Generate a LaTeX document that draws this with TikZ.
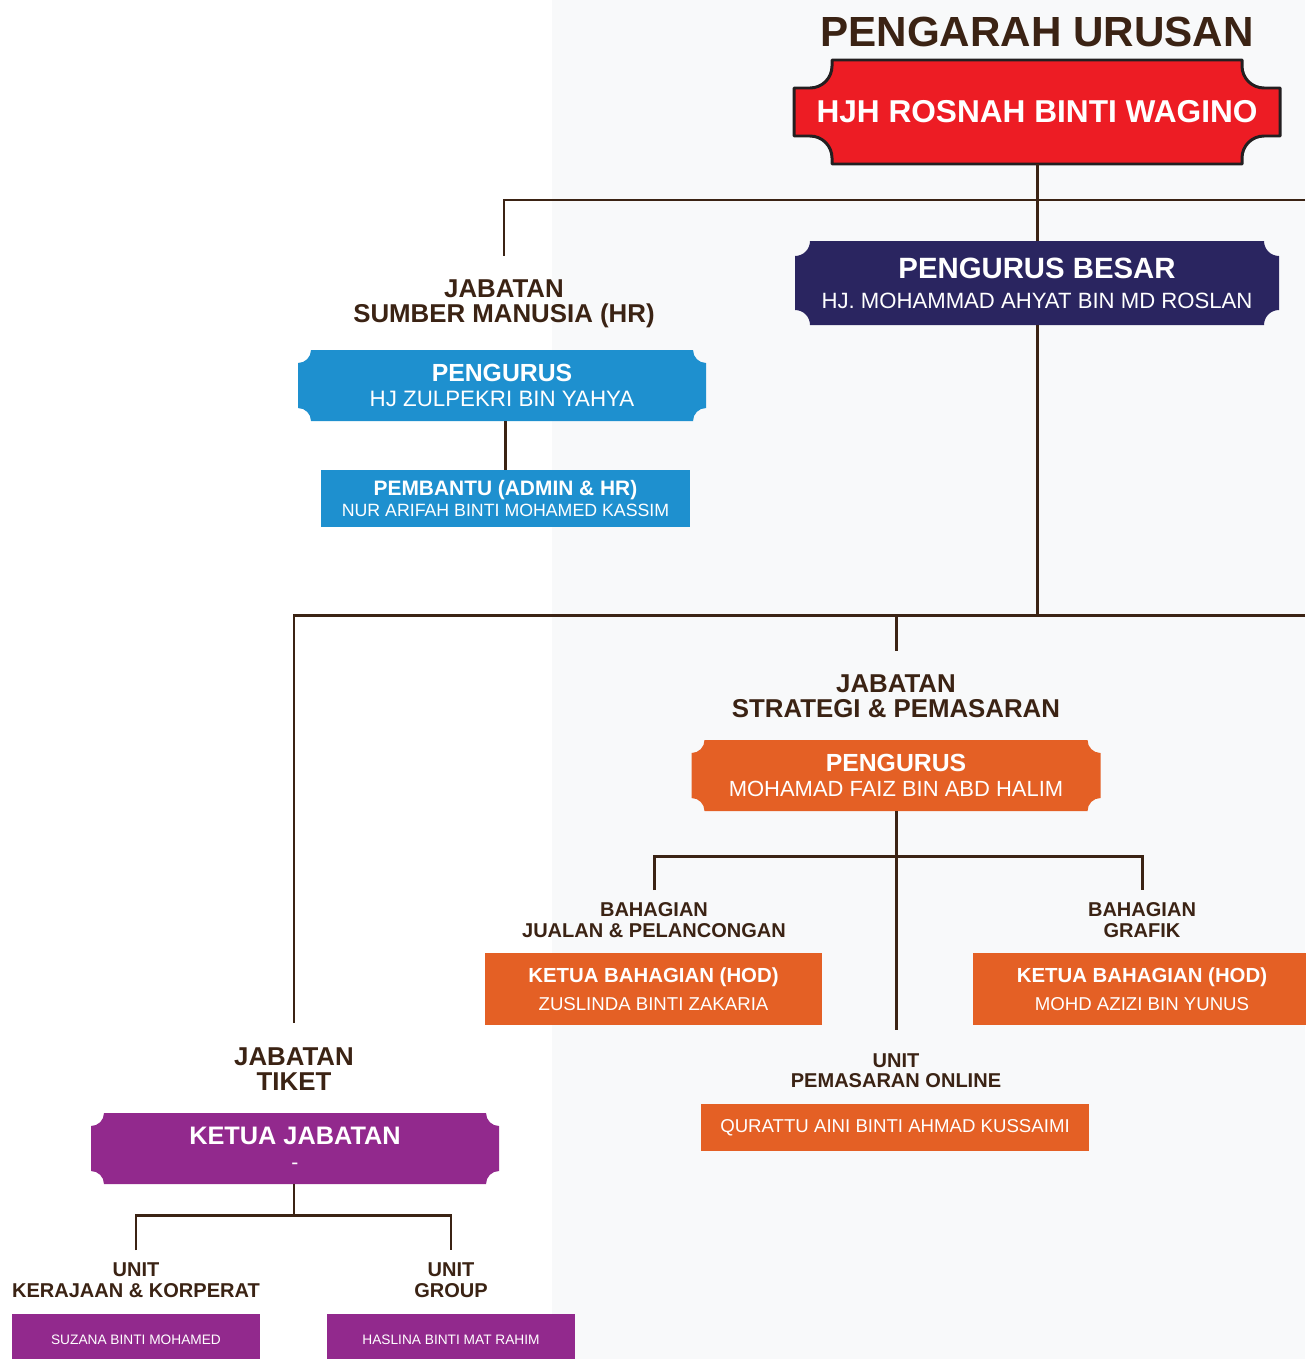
\documentclass[tikz,border=0pt]{standalone}
\usepackage{fontspec}
\setmainfont{Liberation Sans}
\usetikzlibrary{positioning}

\definecolor{lineBrown}{HTML}{3B2314}
\definecolor{pageGray}{HTML}{F8F9FA}
\definecolor{mdRed}{HTML}{ED1C24}
\definecolor{mdEdge}{HTML}{231F20}
\definecolor{mgrNavy}{HTML}{2A2560}
\definecolor{hrBlue}{HTML}{1E90CF}
\definecolor{stratOrange}{HTML}{E46025}
\definecolor{tiketPurple}{HTML}{92298D}

\pgfdeclarelayer{bg}
\pgfsetlayers{bg,main}

\newcommand{\pxu}{0.02cm}
% box with concave corners, drawn behind a named node
\newcommand{\notchfill}[3]{\fill[#2] ([shift={(#3,0)}]#1.north west) -- ([shift={(-#3,0)}]#1.north east) arc[start angle=180,end angle=270,radius=#3] -- ([shift={(0,#3)}]#1.south east) arc[start angle=90,end angle=180,radius=#3] -- ([shift={(#3,0)}]#1.south west) arc[start angle=0,end angle=90,radius=#3] -- ([shift={(0,-#3)}]#1.north west) arc[start angle=270,end angle=360,radius=#3] -- cycle;}

\begin{document}
\begin{tikzpicture}[x=0.02cm,y=0.02cm,
  box/.style 2 args={inner sep=0pt,outer sep=0pt,text=white,align=center,minimum width=#1*\pxu,minimum height=#2*\pxu},
  dept/.style={anchor=north,inner sep=0pt,outer ysep=13.4pt,text=lineBrown,align=center,font=\fontsize{14.7}{14.2}\selectfont\bfseries},
  sub/.style={anchor=north,inner sep=0pt,outer ysep=7.3pt,text=lineBrown,align=center,font=\fontsize{11.4}{11.6}\selectfont\bfseries},
  link/.style={draw=lineBrown,line width=1.7pt}]
\useasboundingbox (0,0) rectangle (1305,-1359);

% top
\node[inner sep=0pt,text=lineBrown,font=\fontsize{24}{24}\selectfont\bfseries] (title) at (1037,-32) {PENGARAH URUSAN};
\node[box={486}{104},font=\fontsize{18}{18}\selectfont\bfseries] (md) at (1037,-112) {HJH ROSNAH BINTI WAGINO};
\node[box={484}{84},font=\fontsize{12.6}{17}\selectfont] (mgr) at (1037,-283) {{\fontsize{16.7}{17}\selectfont\bfseries PENGURUS BESAR}\\HJ. MOHAMMAD AHYAT BIN MD ROSLAN};

% HR
\node[dept] (hrlbl) at (504,-256) {JABATAN\\SUMBER MANUSIA (HR)};
\node[box={408}{71},font=\fontsize{12.7}{13.9}\selectfont] (hrmgr) at (502,-385.5) {{\fontsize{14.1}{13.9}\selectfont\bfseries PENGURUS}\\HJ ZULPEKRI BIN YAHYA};
\node[box={369}{57},fill=hrBlue,font=\fontsize{10.1}{12.5}\selectfont] (hrasst) at (505.5,-498.5) {{\fontsize{11.9}{12.5}\selectfont\bfseries PEMBANTU (ADMIN \& HR)}\\NUR ARIFAH BINTI MOHAMED KASSIM};

% strategi
\node[dept] (stratlbl) at (896,-651) {JABATAN\\STRATEGI \& PEMASARAN};
\node[box={409}{71},font=\fontsize{12.5}{14.5}\selectfont] (stratmgr) at (896,-775.5) {{\fontsize{14.1}{14.5}\selectfont\bfseries PENGURUS}\\MOHAMAD FAIZ BIN ABD HALIM};
\node[sub] (jualanlbl) at (654,-890) {BAHAGIAN\\JUALAN \& PELANCONGAN};
\node[box={337}{72},fill=stratOrange,font=\fontsize{10.6}{16.2}\selectfont] (jualanhod) at (653.5,-989) {{\fontsize{11.6}{16.2}\selectfont\bfseries KETUA BAHAGIAN (HOD)}\\ZUSLINDA BINTI ZAKARIA};
\node[sub] (grafiklbl) at (1142,-890) {BAHAGIAN\\GRAFIK};
\node[box={338}{72},fill=stratOrange,font=\fontsize{10.6}{16.2}\selectfont] (grafikhod) at (1142,-989) {{\fontsize{11.6}{16.2}\selectfont\bfseries KETUA BAHAGIAN (HOD)}\\MOHD AZIZI BIN YUNUS};
\node[sub,outer ysep=13.5pt] (onlinelbl) at (896,-1030) {UNIT\\PEMASARAN ONLINE};
\node[box={388}{47},fill=stratOrange,font=\fontsize{10.6}{12}\selectfont] (onlinebox) at (895,-1127.5) {QURATTU AINI BINTI AHMAD KUSSAIMI};

% tiket
\node[dept,outer ysep=14pt] (tiketlbl) at (294,-1023) {JABATAN\\TIKET};
\node[box={408}{71},font=\fontsize{12}{14.2}\selectfont] (tiketmgr) at (295,-1148.5) {{\fontsize{14.4}{14.2}\selectfont\bfseries KETUA JABATAN}\\-};
\node[sub] (kerlbl) at (136,-1250) {UNIT\\KERAJAAN \& KORPERAT};
\node[box={248}{52},fill=tiketPurple,font=\fontsize{7.8}{9}\selectfont] (kerbox) at (136,-1340) {SUZANA BINTI MOHAMED};
\node[sub] (grouplbl) at (451,-1250) {UNIT\\GROUP};
\node[box={248}{52},fill=tiketPurple,font=\fontsize{7.8}{9}\selectfont] (groupbox) at (451,-1340) {HASLINA BINTI MAT RAHIM};

% connectors
\coordinate (eastA) at (1305,-200);
\coordinate (eastB) at (1305,-615);
\coordinate (barS) at (896,-856);
\coordinate (barT) at (294,-1215);
\draw[link] (md.south) -- (mgr.north);
\draw[link] (eastA) -| (hrlbl.north);
\draw[link] (hrmgr.south -| hrasst.north) -- (hrasst.north);
\draw[link] (mgr.south) -- (mgr.south |- eastB);
\draw[link] (eastB) -| (tiketlbl.north);
\draw[link] (stratlbl.north |- eastB) -- (stratlbl.north);
\draw[link] (stratmgr.south) -- (onlinelbl.north);
\draw[link] (jualanlbl.north) |- (barS) -| (grafiklbl.north);
\draw[link] (tiketmgr.south -| barT) -- (barT);
\draw[link] (kerlbl.north) |- (barT) -| (grouplbl.north);

% shapes behind the nodes
\begin{pgfonlayer}{bg}
\fill[white] (0,0) rectangle (1305,-1359);
\fill[pageGray] (552,0) rectangle (1305,-1359);
\draw[fill=mdRed,draw=mdEdge,line width=1.7pt,line join=round] ([shift={(38,0)}]md.north west) -- ([shift={(-38,0)}]md.north east) -- ++(0,-6) arc[start angle=180,end angle=270,radius=22] -- ([shift={(0,-28)}]md.north east) -- ([shift={(0,28)}]md.south east) -- ++(-16,0) arc[start angle=90,end angle=180,radius=22] -- ([shift={(-38,0)}]md.south east) -- ([shift={(38,0)}]md.south west) -- ++(0,6) arc[start angle=0,end angle=90,radius=22] -- ([shift={(0,28)}]md.south west) -- ([shift={(0,-28)}]md.north west) -- ++(16,0) arc[start angle=270,end angle=360,radius=22] -- cycle;
\notchfill{mgr}{mgrNavy}{15}
\notchfill{hrmgr}{hrBlue}{13}
\notchfill{stratmgr}{stratOrange}{13}
\notchfill{tiketmgr}{tiketPurple}{13}
\end{pgfonlayer}
\end{tikzpicture}
\end{document}
